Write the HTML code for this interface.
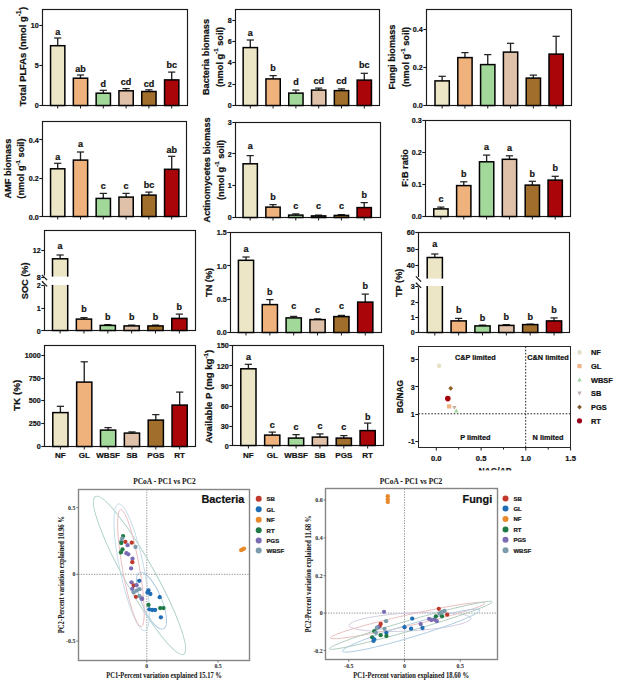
<!DOCTYPE html><html><head><meta charset="utf-8"><style>html,body{margin:0;padding:0;background:#fff;width:619px;height:683px;overflow:hidden}svg{display:block}</style></head><body>
<svg width="619" height="683" viewBox="0 0 619 683" font-family='"Liberation Sans", sans-serif' font-weight="bold" fill="#111">
<style>text{stroke:#111;stroke-width:0.22px}text.sf{stroke-width:0.06px}</style>
<rect width="619" height="683" fill="#fff"/>
<rect x="42.5" y="9.5" width="145.0" height="96.0" fill="none" stroke="#1a1a1a" stroke-width="1.15"/>
<line x1="57.7" y1="38" x2="57.7" y2="45.7" stroke="#222" stroke-width="1.35"/>
<line x1="54.1" y1="38" x2="61.300000000000004" y2="38" stroke="#222" stroke-width="1.25"/>
<rect x="50.55" y="45.7" width="14.3" height="59.80" fill="#ECE5C6" stroke="#000" stroke-width="1.5"/>
<line x1="57.7" y1="105.5" x2="57.7" y2="108.5" stroke="#1a1a1a" stroke-width="1"/>
<text x="57.7" y="34.64" font-size="9.0" text-anchor="middle">a</text>
<line x1="80.5" y1="75" x2="80.5" y2="78.2" stroke="#222" stroke-width="1.35"/>
<line x1="76.9" y1="75" x2="84.1" y2="75" stroke="#222" stroke-width="1.25"/>
<rect x="73.35" y="78.2" width="14.3" height="27.30" fill="#F0B27C" stroke="#000" stroke-width="1.5"/>
<line x1="80.5" y1="105.5" x2="80.5" y2="108.5" stroke="#1a1a1a" stroke-width="1"/>
<text x="80.5" y="71.74" font-size="9.0" text-anchor="middle">ab</text>
<line x1="103.3" y1="90.3" x2="103.3" y2="93.2" stroke="#222" stroke-width="1.35"/>
<line x1="99.7" y1="90.3" x2="106.89999999999999" y2="90.3" stroke="#222" stroke-width="1.25"/>
<rect x="96.15" y="93.2" width="14.3" height="12.30" fill="#A2D89A" stroke="#000" stroke-width="1.5"/>
<line x1="103.3" y1="105.5" x2="103.3" y2="108.5" stroke="#1a1a1a" stroke-width="1"/>
<text x="103.3" y="86.74" font-size="9.0" text-anchor="middle">d</text>
<line x1="126.1" y1="88.6" x2="126.1" y2="90.8" stroke="#222" stroke-width="1.35"/>
<line x1="122.5" y1="88.6" x2="129.7" y2="88.6" stroke="#222" stroke-width="1.25"/>
<rect x="118.95" y="90.8" width="14.3" height="14.70" fill="#DFC0A8" stroke="#000" stroke-width="1.5"/>
<line x1="126.1" y1="105.5" x2="126.1" y2="108.5" stroke="#1a1a1a" stroke-width="1"/>
<text x="126.1" y="84.54" font-size="9.0" text-anchor="middle">cd</text>
<line x1="148.9" y1="89.8" x2="148.9" y2="91.5" stroke="#222" stroke-width="1.35"/>
<line x1="145.3" y1="89.8" x2="152.5" y2="89.8" stroke="#222" stroke-width="1.25"/>
<rect x="141.75" y="91.5" width="14.3" height="14.00" fill="#A26E2C" stroke="#000" stroke-width="1.5"/>
<line x1="148.9" y1="105.5" x2="148.9" y2="108.5" stroke="#1a1a1a" stroke-width="1"/>
<text x="148.9" y="86.74" font-size="9.0" text-anchor="middle">cd</text>
<line x1="171.7" y1="72.1" x2="171.7" y2="79.9" stroke="#222" stroke-width="1.35"/>
<line x1="168.1" y1="72.1" x2="175.29999999999998" y2="72.1" stroke="#222" stroke-width="1.25"/>
<rect x="164.55" y="79.9" width="14.3" height="25.60" fill="#AA0508" stroke="#000" stroke-width="1.5"/>
<line x1="171.7" y1="105.5" x2="171.7" y2="108.5" stroke="#1a1a1a" stroke-width="1"/>
<text x="171.7" y="68.04" font-size="9.0" text-anchor="middle">bc</text>
<line x1="39.3" y1="25.5" x2="42.5" y2="25.5" stroke="#1a1a1a" stroke-width="1.1"/>
<text transform="translate(38.70,28.16) scale(0.9,1)" font-size="8.0" text-anchor="end">10</text>
<line x1="39.3" y1="65.5" x2="42.5" y2="65.5" stroke="#1a1a1a" stroke-width="1.1"/>
<text transform="translate(38.70,68.16) scale(0.9,1)" font-size="8.0" text-anchor="end">5</text>
<line x1="39.3" y1="105.5" x2="42.5" y2="105.5" stroke="#1a1a1a" stroke-width="1.1"/>
<text transform="translate(38.70,108.16) scale(0.9,1)" font-size="8.0" text-anchor="end">0</text>
<text transform="translate(25.78,56.5) rotate(-90)" font-size="9.4" text-anchor="middle">Total PLFAs (nmol g<tspan font-size="6.4" dy="-4.4">-1</tspan><tspan dy="4.4" dx="0.6">)</tspan></text>
<rect x="235.5" y="9.5" width="144.0" height="96.0" fill="none" stroke="#1a1a1a" stroke-width="1.15"/>
<line x1="250.3" y1="40" x2="250.3" y2="47.6" stroke="#222" stroke-width="1.35"/>
<line x1="246.70000000000002" y1="40" x2="253.9" y2="40" stroke="#222" stroke-width="1.25"/>
<rect x="243.15" y="47.6" width="14.3" height="57.90" fill="#ECE5C6" stroke="#000" stroke-width="1.5"/>
<line x1="250.3" y1="105.5" x2="250.3" y2="108.5" stroke="#1a1a1a" stroke-width="1"/>
<text x="250.3" y="35.64" font-size="9.0" text-anchor="middle">a</text>
<line x1="273.1" y1="75.6" x2="273.1" y2="78.9" stroke="#222" stroke-width="1.35"/>
<line x1="269.5" y1="75.6" x2="276.70000000000005" y2="75.6" stroke="#222" stroke-width="1.25"/>
<rect x="265.95" y="78.9" width="14.3" height="26.60" fill="#F0B27C" stroke="#000" stroke-width="1.5"/>
<line x1="273.1" y1="105.5" x2="273.1" y2="108.5" stroke="#1a1a1a" stroke-width="1"/>
<text x="273.1" y="71.24" font-size="9.0" text-anchor="middle">b</text>
<line x1="295.9" y1="90.1" x2="295.9" y2="93.1" stroke="#222" stroke-width="1.35"/>
<line x1="292.29999999999995" y1="90.1" x2="299.5" y2="90.1" stroke="#222" stroke-width="1.25"/>
<rect x="288.75" y="93.1" width="14.3" height="12.40" fill="#A2D89A" stroke="#000" stroke-width="1.5"/>
<line x1="295.9" y1="105.5" x2="295.9" y2="108.5" stroke="#1a1a1a" stroke-width="1"/>
<text x="295.9" y="85.34" font-size="9.0" text-anchor="middle">d</text>
<line x1="318.7" y1="88.1" x2="318.7" y2="90.1" stroke="#222" stroke-width="1.35"/>
<line x1="315.09999999999997" y1="88.1" x2="322.3" y2="88.1" stroke="#222" stroke-width="1.25"/>
<rect x="311.55" y="90.1" width="14.3" height="15.40" fill="#DFC0A8" stroke="#000" stroke-width="1.5"/>
<line x1="318.7" y1="105.5" x2="318.7" y2="108.5" stroke="#1a1a1a" stroke-width="1"/>
<text x="318.7" y="84.14" font-size="9.0" text-anchor="middle">cd</text>
<line x1="341.5" y1="88.9" x2="341.5" y2="90.6" stroke="#222" stroke-width="1.35"/>
<line x1="337.9" y1="88.9" x2="345.1" y2="88.9" stroke="#222" stroke-width="1.25"/>
<rect x="334.35" y="90.6" width="14.3" height="14.90" fill="#A26E2C" stroke="#000" stroke-width="1.5"/>
<line x1="341.5" y1="105.5" x2="341.5" y2="108.5" stroke="#1a1a1a" stroke-width="1"/>
<text x="341.5" y="84.14" font-size="9.0" text-anchor="middle">cd</text>
<line x1="364.3" y1="73.3" x2="364.3" y2="80.1" stroke="#222" stroke-width="1.35"/>
<line x1="360.7" y1="73.3" x2="367.90000000000003" y2="73.3" stroke="#222" stroke-width="1.25"/>
<rect x="357.15" y="80.1" width="14.3" height="25.40" fill="#AA0508" stroke="#000" stroke-width="1.5"/>
<line x1="364.3" y1="105.5" x2="364.3" y2="108.5" stroke="#1a1a1a" stroke-width="1"/>
<text x="364.3" y="68.34" font-size="9.0" text-anchor="middle">bc</text>
<line x1="232.3" y1="20.5" x2="235.5" y2="20.5" stroke="#1a1a1a" stroke-width="1.1"/>
<text transform="translate(231.70,22.96) scale(0.9,1)" font-size="8.0" text-anchor="end">8</text>
<line x1="232.3" y1="41.5" x2="235.5" y2="41.5" stroke="#1a1a1a" stroke-width="1.1"/>
<text transform="translate(231.70,44.26) scale(0.9,1)" font-size="8.0" text-anchor="end">6</text>
<line x1="232.3" y1="62.5" x2="235.5" y2="62.5" stroke="#1a1a1a" stroke-width="1.1"/>
<text transform="translate(231.70,65.46) scale(0.9,1)" font-size="8.0" text-anchor="end">4</text>
<line x1="232.3" y1="84.5" x2="235.5" y2="84.5" stroke="#1a1a1a" stroke-width="1.1"/>
<text transform="translate(231.70,86.76) scale(0.9,1)" font-size="8.0" text-anchor="end">2</text>
<line x1="232.3" y1="105.5" x2="235.5" y2="105.5" stroke="#1a1a1a" stroke-width="1.1"/>
<text transform="translate(231.70,107.96) scale(0.9,1)" font-size="8.0" text-anchor="end">0</text>
<text transform="translate(208.81,57) rotate(-90)" font-size="9.2" text-anchor="middle">Bacteria biomass</text>
<text transform="translate(222.61,57) rotate(-90)" font-size="9.2" text-anchor="middle">(nmol g<tspan font-size="6.2" dy="-4.2">-1</tspan><tspan dy="4.2"> soil)</tspan></text>
<rect x="426.5" y="9.5" width="145.0" height="96.0" fill="none" stroke="#1a1a1a" stroke-width="1.15"/>
<line x1="442.15" y1="76.3" x2="442.15" y2="80.9" stroke="#222" stroke-width="1.35"/>
<line x1="438.54999999999995" y1="76.3" x2="445.75" y2="76.3" stroke="#222" stroke-width="1.25"/>
<rect x="435.00" y="80.9" width="14.3" height="24.60" fill="#ECE5C6" stroke="#000" stroke-width="1.5"/>
<line x1="442.15" y1="105.5" x2="442.15" y2="108.5" stroke="#1a1a1a" stroke-width="1"/>
<line x1="464.95" y1="52.6" x2="464.95" y2="57.6" stroke="#222" stroke-width="1.35"/>
<line x1="461.34999999999997" y1="52.6" x2="468.55" y2="52.6" stroke="#222" stroke-width="1.25"/>
<rect x="457.80" y="57.6" width="14.3" height="47.90" fill="#F0B27C" stroke="#000" stroke-width="1.5"/>
<line x1="464.95" y1="105.5" x2="464.95" y2="108.5" stroke="#1a1a1a" stroke-width="1"/>
<line x1="487.75" y1="54.6" x2="487.75" y2="64.6" stroke="#222" stroke-width="1.35"/>
<line x1="484.15" y1="54.6" x2="491.35" y2="54.6" stroke="#222" stroke-width="1.25"/>
<rect x="480.60" y="64.6" width="14.3" height="40.90" fill="#A2D89A" stroke="#000" stroke-width="1.5"/>
<line x1="487.75" y1="105.5" x2="487.75" y2="108.5" stroke="#1a1a1a" stroke-width="1"/>
<line x1="510.55" y1="43.3" x2="510.55" y2="52.1" stroke="#222" stroke-width="1.35"/>
<line x1="506.95" y1="43.3" x2="514.15" y2="43.3" stroke="#222" stroke-width="1.25"/>
<rect x="503.40" y="52.1" width="14.3" height="53.40" fill="#DFC0A8" stroke="#000" stroke-width="1.5"/>
<line x1="510.55" y1="105.5" x2="510.55" y2="108.5" stroke="#1a1a1a" stroke-width="1"/>
<line x1="533.35" y1="75.1" x2="533.35" y2="78.1" stroke="#222" stroke-width="1.35"/>
<line x1="529.75" y1="75.1" x2="536.95" y2="75.1" stroke="#222" stroke-width="1.25"/>
<rect x="526.20" y="78.1" width="14.3" height="27.40" fill="#A26E2C" stroke="#000" stroke-width="1.5"/>
<line x1="533.35" y1="105.5" x2="533.35" y2="108.5" stroke="#1a1a1a" stroke-width="1"/>
<line x1="556.15" y1="36.3" x2="556.15" y2="54.1" stroke="#222" stroke-width="1.35"/>
<line x1="552.55" y1="36.3" x2="559.75" y2="36.3" stroke="#222" stroke-width="1.25"/>
<rect x="549.00" y="54.1" width="14.3" height="51.40" fill="#AA0508" stroke="#000" stroke-width="1.5"/>
<line x1="556.15" y1="105.5" x2="556.15" y2="108.5" stroke="#1a1a1a" stroke-width="1"/>
<line x1="423.3" y1="29.5" x2="426.5" y2="29.5" stroke="#1a1a1a" stroke-width="1.1"/>
<text transform="translate(422.70,32.16) scale(0.9,1)" font-size="8.0" text-anchor="end">0.4</text>
<line x1="423.3" y1="67.5" x2="426.5" y2="67.5" stroke="#1a1a1a" stroke-width="1.1"/>
<text transform="translate(422.70,70.16) scale(0.9,1)" font-size="8.0" text-anchor="end">0.2</text>
<line x1="423.3" y1="105.5" x2="426.5" y2="105.5" stroke="#1a1a1a" stroke-width="1.1"/>
<text transform="translate(422.70,108.26) scale(0.9,1)" font-size="8.0" text-anchor="end">0.0</text>
<text transform="translate(394.61,57) rotate(-90)" font-size="9.2" text-anchor="middle">Fungi biomass</text>
<text transform="translate(408.91,57) rotate(-90)" font-size="9.2" text-anchor="middle">(nmol g<tspan font-size="6.2" dy="-4.2">-1</tspan><tspan dy="4.2"> soil)</tspan></text>
<rect x="42.5" y="121.5" width="144.0" height="95.0" fill="none" stroke="#1a1a1a" stroke-width="1.15"/>
<line x1="57.7" y1="163.3" x2="57.7" y2="168.8" stroke="#222" stroke-width="1.35"/>
<line x1="54.1" y1="163.3" x2="61.300000000000004" y2="163.3" stroke="#222" stroke-width="1.25"/>
<rect x="50.55" y="168.8" width="14.3" height="47.70" fill="#ECE5C6" stroke="#000" stroke-width="1.5"/>
<line x1="57.7" y1="216.5" x2="57.7" y2="219.5" stroke="#1a1a1a" stroke-width="1"/>
<text x="57.7" y="159.94" font-size="9.0" text-anchor="middle">a</text>
<line x1="80.5" y1="152" x2="80.5" y2="160.1" stroke="#222" stroke-width="1.35"/>
<line x1="76.9" y1="152" x2="84.1" y2="152" stroke="#222" stroke-width="1.25"/>
<rect x="73.35" y="160.1" width="14.3" height="56.40" fill="#F0B27C" stroke="#000" stroke-width="1.5"/>
<line x1="80.5" y1="216.5" x2="80.5" y2="219.5" stroke="#1a1a1a" stroke-width="1"/>
<text x="80.5" y="147.34" font-size="9.0" text-anchor="middle">a</text>
<line x1="103.3" y1="193.4" x2="103.3" y2="198.4" stroke="#222" stroke-width="1.35"/>
<line x1="99.7" y1="193.4" x2="106.89999999999999" y2="193.4" stroke="#222" stroke-width="1.25"/>
<rect x="96.15" y="198.4" width="14.3" height="18.10" fill="#A2D89A" stroke="#000" stroke-width="1.5"/>
<line x1="103.3" y1="216.5" x2="103.3" y2="219.5" stroke="#1a1a1a" stroke-width="1"/>
<text x="103.3" y="188.64" font-size="9.0" text-anchor="middle">c</text>
<line x1="126.1" y1="193.4" x2="126.1" y2="197.1" stroke="#222" stroke-width="1.35"/>
<line x1="122.5" y1="193.4" x2="129.7" y2="193.4" stroke="#222" stroke-width="1.25"/>
<rect x="118.95" y="197.1" width="14.3" height="19.40" fill="#DFC0A8" stroke="#000" stroke-width="1.5"/>
<line x1="126.1" y1="216.5" x2="126.1" y2="219.5" stroke="#1a1a1a" stroke-width="1"/>
<text x="126.1" y="188.64" font-size="9.0" text-anchor="middle">c</text>
<line x1="148.9" y1="192.1" x2="148.9" y2="195.1" stroke="#222" stroke-width="1.35"/>
<line x1="145.3" y1="192.1" x2="152.5" y2="192.1" stroke="#222" stroke-width="1.25"/>
<rect x="141.75" y="195.1" width="14.3" height="21.40" fill="#A26E2C" stroke="#000" stroke-width="1.5"/>
<line x1="148.9" y1="216.5" x2="148.9" y2="219.5" stroke="#1a1a1a" stroke-width="1"/>
<text x="148.9" y="187.84" font-size="9.0" text-anchor="middle">bc</text>
<line x1="171.7" y1="156.3" x2="171.7" y2="169.3" stroke="#222" stroke-width="1.35"/>
<line x1="168.1" y1="156.3" x2="175.29999999999998" y2="156.3" stroke="#222" stroke-width="1.25"/>
<rect x="164.55" y="169.3" width="14.3" height="47.20" fill="#AA0508" stroke="#000" stroke-width="1.5"/>
<line x1="171.7" y1="216.5" x2="171.7" y2="219.5" stroke="#1a1a1a" stroke-width="1"/>
<text x="171.7" y="152.74" font-size="9.0" text-anchor="middle">ab</text>
<line x1="39.3" y1="139.5" x2="42.5" y2="139.5" stroke="#1a1a1a" stroke-width="1.1"/>
<text transform="translate(38.70,142.66) scale(0.9,1)" font-size="8.0" text-anchor="end">0.4</text>
<line x1="39.3" y1="178.5" x2="42.5" y2="178.5" stroke="#1a1a1a" stroke-width="1.1"/>
<text transform="translate(38.70,181.16) scale(0.9,1)" font-size="8.0" text-anchor="end">0.2</text>
<line x1="39.3" y1="216.5" x2="42.5" y2="216.5" stroke="#1a1a1a" stroke-width="1.1"/>
<text transform="translate(38.70,219.56) scale(0.9,1)" font-size="8.0" text-anchor="end">0.0</text>
<text transform="translate(11.31,168.6) rotate(-90)" font-size="9.2" text-anchor="middle">AMF biomass</text>
<text transform="translate(23.81,168.6) rotate(-90)" font-size="9.2" text-anchor="middle">(nmol g<tspan font-size="6.2" dy="-4.2">-1</tspan><tspan dy="4.2"> soil)</tspan></text>
<rect x="235.5" y="122.5" width="145.0" height="95.0" fill="none" stroke="#1a1a1a" stroke-width="1.15"/>
<line x1="250.2" y1="155.6" x2="250.2" y2="163.8" stroke="#222" stroke-width="1.35"/>
<line x1="246.6" y1="155.6" x2="253.79999999999998" y2="155.6" stroke="#222" stroke-width="1.25"/>
<rect x="243.05" y="163.8" width="14.3" height="53.70" fill="#ECE5C6" stroke="#000" stroke-width="1.5"/>
<line x1="250.2" y1="217.5" x2="250.2" y2="220.5" stroke="#1a1a1a" stroke-width="1"/>
<text x="250.2" y="148.64" font-size="9.0" text-anchor="middle">a</text>
<line x1="273.0" y1="204.6" x2="273.0" y2="207.1" stroke="#222" stroke-width="1.35"/>
<line x1="269.4" y1="204.6" x2="276.6" y2="204.6" stroke="#222" stroke-width="1.25"/>
<rect x="265.85" y="207.1" width="14.3" height="10.40" fill="#F0B27C" stroke="#000" stroke-width="1.5"/>
<line x1="273.0" y1="217.5" x2="273.0" y2="220.5" stroke="#1a1a1a" stroke-width="1"/>
<text x="273.0" y="199.64" font-size="9.0" text-anchor="middle">b</text>
<line x1="295.8" y1="213.9" x2="295.8" y2="215.1" stroke="#222" stroke-width="1.35"/>
<line x1="292.2" y1="213.9" x2="299.40000000000003" y2="213.9" stroke="#222" stroke-width="1.25"/>
<rect x="288.65" y="215.1" width="14.3" height="2.40" fill="#A2D89A" stroke="#000" stroke-width="1.5"/>
<line x1="295.8" y1="217.5" x2="295.8" y2="220.5" stroke="#1a1a1a" stroke-width="1"/>
<text x="295.8" y="208.74" font-size="9.0" text-anchor="middle">c</text>
<line x1="318.6" y1="215.1" x2="318.6" y2="215.9" stroke="#222" stroke-width="1.35"/>
<line x1="315.0" y1="215.1" x2="322.20000000000005" y2="215.1" stroke="#222" stroke-width="1.25"/>
<rect x="311.45" y="215.9" width="14.3" height="1.60" fill="#DFC0A8" stroke="#000" stroke-width="1.5"/>
<line x1="318.6" y1="217.5" x2="318.6" y2="220.5" stroke="#1a1a1a" stroke-width="1"/>
<text x="318.6" y="209.44" font-size="9.0" text-anchor="middle">c</text>
<line x1="341.4" y1="214.6" x2="341.4" y2="215.4" stroke="#222" stroke-width="1.35"/>
<line x1="337.79999999999995" y1="214.6" x2="345.0" y2="214.6" stroke="#222" stroke-width="1.25"/>
<rect x="334.25" y="215.4" width="14.3" height="2.10" fill="#A26E2C" stroke="#000" stroke-width="1.5"/>
<line x1="341.4" y1="217.5" x2="341.4" y2="220.5" stroke="#1a1a1a" stroke-width="1"/>
<text x="341.4" y="209.44" font-size="9.0" text-anchor="middle">c</text>
<line x1="364.2" y1="202.6" x2="364.2" y2="207.6" stroke="#222" stroke-width="1.35"/>
<line x1="360.59999999999997" y1="202.6" x2="367.8" y2="202.6" stroke="#222" stroke-width="1.25"/>
<rect x="357.05" y="207.6" width="14.3" height="9.90" fill="#AA0508" stroke="#000" stroke-width="1.5"/>
<line x1="364.2" y1="217.5" x2="364.2" y2="220.5" stroke="#1a1a1a" stroke-width="1"/>
<text x="364.2" y="197.84" font-size="9.0" text-anchor="middle">b</text>
<line x1="232.3" y1="122.5" x2="235.5" y2="122.5" stroke="#1a1a1a" stroke-width="1.1"/>
<text transform="translate(231.70,124.76) scale(0.9,1)" font-size="8.0" text-anchor="end">3</text>
<line x1="232.3" y1="153.5" x2="235.5" y2="153.5" stroke="#1a1a1a" stroke-width="1.1"/>
<text transform="translate(231.70,156.56) scale(0.9,1)" font-size="8.0" text-anchor="end">2</text>
<line x1="232.3" y1="185.5" x2="235.5" y2="185.5" stroke="#1a1a1a" stroke-width="1.1"/>
<text transform="translate(231.70,188.36) scale(0.9,1)" font-size="8.0" text-anchor="end">1</text>
<line x1="232.3" y1="217.5" x2="235.5" y2="217.5" stroke="#1a1a1a" stroke-width="1.1"/>
<text transform="translate(231.70,220.06) scale(0.9,1)" font-size="8.0" text-anchor="end">0</text>
<text transform="translate(209.81,169.9) rotate(-90)" font-size="9.2" text-anchor="middle">Actinomycetes biomass</text>
<text transform="translate(223.51,169.9) rotate(-90)" font-size="9.2" text-anchor="middle">(nmol g<tspan font-size="6.2" dy="-4.2">-1</tspan><tspan dy="4.2"> soil)</tspan></text>
<rect x="425.5" y="120.5" width="145.0" height="96.0" fill="none" stroke="#1a1a1a" stroke-width="1.15"/>
<line x1="440.9" y1="207.1" x2="440.9" y2="208.9" stroke="#222" stroke-width="1.35"/>
<line x1="437.29999999999995" y1="207.1" x2="444.5" y2="207.1" stroke="#222" stroke-width="1.25"/>
<rect x="433.75" y="208.9" width="14.3" height="7.60" fill="#ECE5C6" stroke="#000" stroke-width="1.5"/>
<line x1="440.9" y1="216.5" x2="440.9" y2="219.5" stroke="#1a1a1a" stroke-width="1"/>
<text x="440.9" y="202.44" font-size="9.0" text-anchor="middle">c</text>
<line x1="463.76" y1="181.8" x2="463.76" y2="185.6" stroke="#222" stroke-width="1.35"/>
<line x1="460.15999999999997" y1="181.8" x2="467.36" y2="181.8" stroke="#222" stroke-width="1.25"/>
<rect x="456.61" y="185.6" width="14.3" height="30.90" fill="#F0B27C" stroke="#000" stroke-width="1.5"/>
<line x1="463.76" y1="216.5" x2="463.76" y2="219.5" stroke="#1a1a1a" stroke-width="1"/>
<text x="463.76" y="177.04" font-size="9.0" text-anchor="middle">b</text>
<line x1="486.62" y1="155.1" x2="486.62" y2="161.8" stroke="#222" stroke-width="1.35"/>
<line x1="483.02" y1="155.1" x2="490.22" y2="155.1" stroke="#222" stroke-width="1.25"/>
<rect x="479.47" y="161.8" width="14.3" height="54.70" fill="#A2D89A" stroke="#000" stroke-width="1.5"/>
<line x1="486.62" y1="216.5" x2="486.62" y2="219.5" stroke="#1a1a1a" stroke-width="1"/>
<text x="486.62" y="149.84" font-size="9.0" text-anchor="middle">a</text>
<line x1="509.48" y1="155.8" x2="509.48" y2="159.3" stroke="#222" stroke-width="1.35"/>
<line x1="505.88" y1="155.8" x2="513.08" y2="155.8" stroke="#222" stroke-width="1.25"/>
<rect x="502.33" y="159.3" width="14.3" height="57.20" fill="#DFC0A8" stroke="#000" stroke-width="1.5"/>
<line x1="509.48" y1="216.5" x2="509.48" y2="219.5" stroke="#1a1a1a" stroke-width="1"/>
<text x="509.48" y="151.14" font-size="9.0" text-anchor="middle">a</text>
<line x1="532.34" y1="181.3" x2="532.34" y2="185.1" stroke="#222" stroke-width="1.35"/>
<line x1="528.74" y1="181.3" x2="535.94" y2="181.3" stroke="#222" stroke-width="1.25"/>
<rect x="525.19" y="185.1" width="14.3" height="31.40" fill="#A26E2C" stroke="#000" stroke-width="1.5"/>
<line x1="532.34" y1="216.5" x2="532.34" y2="219.5" stroke="#1a1a1a" stroke-width="1"/>
<text x="532.34" y="176.54" font-size="9.0" text-anchor="middle">b</text>
<line x1="555.2" y1="176.3" x2="555.2" y2="180.1" stroke="#222" stroke-width="1.35"/>
<line x1="551.6" y1="176.3" x2="558.8000000000001" y2="176.3" stroke="#222" stroke-width="1.25"/>
<rect x="548.05" y="180.1" width="14.3" height="36.40" fill="#AA0508" stroke="#000" stroke-width="1.5"/>
<line x1="555.2" y1="216.5" x2="555.2" y2="219.5" stroke="#1a1a1a" stroke-width="1"/>
<text x="555.2" y="171.34" font-size="9.0" text-anchor="middle">b</text>
<line x1="422.3" y1="120.5" x2="425.5" y2="120.5" stroke="#1a1a1a" stroke-width="1.1"/>
<text transform="translate(421.70,123.26) scale(0.9,1)" font-size="8.0" text-anchor="end">0.3</text>
<line x1="422.3" y1="152.5" x2="425.5" y2="152.5" stroke="#1a1a1a" stroke-width="1.1"/>
<text transform="translate(421.70,155.26) scale(0.9,1)" font-size="8.0" text-anchor="end">0.2</text>
<line x1="422.3" y1="184.5" x2="425.5" y2="184.5" stroke="#1a1a1a" stroke-width="1.1"/>
<text transform="translate(421.70,187.26) scale(0.9,1)" font-size="8.0" text-anchor="end">0.1</text>
<line x1="422.3" y1="216.5" x2="425.5" y2="216.5" stroke="#1a1a1a" stroke-width="1.1"/>
<text transform="translate(421.70,219.16) scale(0.9,1)" font-size="8.0" text-anchor="end">0.0</text>
<text transform="translate(407.51,167.9) rotate(-90)" font-size="9.2" text-anchor="middle">F:B ratio</text>
<rect x="44.5" y="230.5" width="151.0" height="100.0" fill="none" stroke="#1a1a1a" stroke-width="1.15"/>
<line x1="60.1" y1="255" x2="60.1" y2="258.8" stroke="#222" stroke-width="1.35"/>
<line x1="56.5" y1="255" x2="63.7" y2="255" stroke="#222" stroke-width="1.25"/>
<rect x="52.50" y="258.8" width="15.2" height="71.70" fill="#ECE5C6" stroke="#000" stroke-width="1.5"/>
<line x1="60.1" y1="330.5" x2="60.1" y2="333.5" stroke="#1a1a1a" stroke-width="1"/>
<text x="60.1" y="248.84" font-size="9.0" text-anchor="middle">a</text>
<line x1="83.95" y1="317.6" x2="83.95" y2="319.1" stroke="#222" stroke-width="1.35"/>
<line x1="80.35000000000001" y1="317.6" x2="87.55" y2="317.6" stroke="#222" stroke-width="1.25"/>
<rect x="76.35" y="319.1" width="15.2" height="11.40" fill="#F0B27C" stroke="#000" stroke-width="1.5"/>
<line x1="83.95" y1="330.5" x2="83.95" y2="333.5" stroke="#1a1a1a" stroke-width="1"/>
<text x="83.95" y="311.64" font-size="9.0" text-anchor="middle">b</text>
<line x1="107.8" y1="324.6" x2="107.8" y2="325.4" stroke="#222" stroke-width="1.35"/>
<line x1="104.2" y1="324.6" x2="111.39999999999999" y2="324.6" stroke="#222" stroke-width="1.25"/>
<rect x="100.20" y="325.4" width="15.2" height="5.10" fill="#A2D89A" stroke="#000" stroke-width="1.5"/>
<line x1="107.8" y1="330.5" x2="107.8" y2="333.5" stroke="#1a1a1a" stroke-width="1"/>
<text x="107.8" y="319.84" font-size="9.0" text-anchor="middle">b</text>
<line x1="131.65" y1="325.1" x2="131.65" y2="325.9" stroke="#222" stroke-width="1.35"/>
<line x1="128.05" y1="325.1" x2="135.25" y2="325.1" stroke="#222" stroke-width="1.25"/>
<rect x="124.05" y="325.9" width="15.2" height="4.60" fill="#DFC0A8" stroke="#000" stroke-width="1.5"/>
<line x1="131.65" y1="330.5" x2="131.65" y2="333.5" stroke="#1a1a1a" stroke-width="1"/>
<text x="131.65" y="319.84" font-size="9.0" text-anchor="middle">b</text>
<line x1="155.5" y1="325.1" x2="155.5" y2="325.9" stroke="#222" stroke-width="1.35"/>
<line x1="151.9" y1="325.1" x2="159.1" y2="325.1" stroke="#222" stroke-width="1.25"/>
<rect x="147.90" y="325.9" width="15.2" height="4.60" fill="#A26E2C" stroke="#000" stroke-width="1.5"/>
<line x1="155.5" y1="330.5" x2="155.5" y2="333.5" stroke="#1a1a1a" stroke-width="1"/>
<text x="155.5" y="319.84" font-size="9.0" text-anchor="middle">b</text>
<line x1="179.35" y1="314.1" x2="179.35" y2="318.4" stroke="#222" stroke-width="1.35"/>
<line x1="175.75" y1="314.1" x2="182.95" y2="314.1" stroke="#222" stroke-width="1.25"/>
<rect x="171.75" y="318.4" width="15.2" height="12.10" fill="#AA0508" stroke="#000" stroke-width="1.5"/>
<line x1="179.35" y1="330.5" x2="179.35" y2="333.5" stroke="#1a1a1a" stroke-width="1"/>
<text x="179.35" y="309.84" font-size="9.0" text-anchor="middle">b</text>
<rect x="51.00" y="276.6" width="18.2" height="8.299999999999955" fill="#fff"/>
<rect x="43.5" y="275.5" width="3" height="10.300000000000011" fill="#fff"/>
<line x1="41.9" y1="274.9" x2="47.1" y2="280.1" stroke="#1a1a1a" stroke-width="1.3"/>
<line x1="41.9" y1="281.2" x2="47.1" y2="286.40000000000003" stroke="#1a1a1a" stroke-width="1.3"/>
<line x1="41.3" y1="250.5" x2="44.5" y2="250.5" stroke="#1a1a1a" stroke-width="1.1"/>
<text transform="translate(40.70,253.36) scale(0.9,1)" font-size="8.0" text-anchor="end">12</text>
<line x1="41.3" y1="277.5" x2="44.5" y2="277.5" stroke="#1a1a1a" stroke-width="1.1"/>
<text transform="translate(40.70,280.06) scale(0.9,1)" font-size="8.0" text-anchor="end">8</text>
<line x1="41.3" y1="285.5" x2="44.5" y2="285.5" stroke="#1a1a1a" stroke-width="1.1"/>
<text transform="translate(40.70,287.76) scale(0.9,1)" font-size="8.0" text-anchor="end">2</text>
<line x1="41.3" y1="308.5" x2="44.5" y2="308.5" stroke="#1a1a1a" stroke-width="1.1"/>
<text transform="translate(40.70,310.76) scale(0.9,1)" font-size="8.0" text-anchor="end">1</text>
<line x1="41.3" y1="330.5" x2="44.5" y2="330.5" stroke="#1a1a1a" stroke-width="1.1"/>
<text transform="translate(40.70,333.56) scale(0.9,1)" font-size="8.0" text-anchor="end">0</text>
<text transform="translate(27.91,280.8) rotate(-90)" font-size="9.2" text-anchor="middle">SOC (%)</text>
<rect x="230.5" y="232.5" width="151.0" height="100.0" fill="none" stroke="#1a1a1a" stroke-width="1.15"/>
<line x1="246.0" y1="257" x2="246.0" y2="260.3" stroke="#222" stroke-width="1.35"/>
<line x1="242.4" y1="257" x2="249.6" y2="257" stroke="#222" stroke-width="1.25"/>
<rect x="238.40" y="260.3" width="15.2" height="72.20" fill="#ECE5C6" stroke="#000" stroke-width="1.5"/>
<line x1="246.0" y1="332.5" x2="246.0" y2="335.5" stroke="#1a1a1a" stroke-width="1"/>
<text x="246.0" y="251.84" font-size="9.0" text-anchor="middle">a</text>
<line x1="269.85" y1="299.6" x2="269.85" y2="304.6" stroke="#222" stroke-width="1.35"/>
<line x1="266.25" y1="299.6" x2="273.45000000000005" y2="299.6" stroke="#222" stroke-width="1.25"/>
<rect x="262.25" y="304.6" width="15.2" height="27.90" fill="#F0B27C" stroke="#000" stroke-width="1.5"/>
<line x1="269.85" y1="332.5" x2="269.85" y2="335.5" stroke="#1a1a1a" stroke-width="1"/>
<text x="269.85" y="294.54" font-size="9.0" text-anchor="middle">b</text>
<line x1="293.7" y1="316.4" x2="293.7" y2="317.9" stroke="#222" stroke-width="1.35"/>
<line x1="290.09999999999997" y1="316.4" x2="297.3" y2="316.4" stroke="#222" stroke-width="1.25"/>
<rect x="286.10" y="317.9" width="15.2" height="14.60" fill="#A2D89A" stroke="#000" stroke-width="1.5"/>
<line x1="293.7" y1="332.5" x2="293.7" y2="335.5" stroke="#1a1a1a" stroke-width="1"/>
<text x="293.7" y="309.44" font-size="9.0" text-anchor="middle">c</text>
<line x1="317.55" y1="318.9" x2="317.55" y2="319.6" stroke="#222" stroke-width="1.35"/>
<line x1="313.95" y1="318.9" x2="321.15000000000003" y2="318.9" stroke="#222" stroke-width="1.25"/>
<rect x="309.95" y="319.6" width="15.2" height="12.90" fill="#DFC0A8" stroke="#000" stroke-width="1.5"/>
<line x1="317.55" y1="332.5" x2="317.55" y2="335.5" stroke="#1a1a1a" stroke-width="1"/>
<text x="317.55" y="313.24" font-size="9.0" text-anchor="middle">c</text>
<line x1="341.4" y1="315.4" x2="341.4" y2="316.6" stroke="#222" stroke-width="1.35"/>
<line x1="337.79999999999995" y1="315.4" x2="345.0" y2="315.4" stroke="#222" stroke-width="1.25"/>
<rect x="333.80" y="316.6" width="15.2" height="15.90" fill="#A26E2C" stroke="#000" stroke-width="1.5"/>
<line x1="341.4" y1="332.5" x2="341.4" y2="335.5" stroke="#1a1a1a" stroke-width="1"/>
<text x="341.4" y="309.44" font-size="9.0" text-anchor="middle">c</text>
<line x1="365.25" y1="294.1" x2="365.25" y2="302.1" stroke="#222" stroke-width="1.35"/>
<line x1="361.65" y1="294.1" x2="368.85" y2="294.1" stroke="#222" stroke-width="1.25"/>
<rect x="357.65" y="302.1" width="15.2" height="30.40" fill="#AA0508" stroke="#000" stroke-width="1.5"/>
<line x1="365.25" y1="332.5" x2="365.25" y2="335.5" stroke="#1a1a1a" stroke-width="1"/>
<text x="365.25" y="289.04" font-size="9.0" text-anchor="middle">b</text>
<line x1="227.3" y1="232.5" x2="230.5" y2="232.5" stroke="#1a1a1a" stroke-width="1.1"/>
<text transform="translate(226.70,235.26) scale(0.9,1)" font-size="8.0" text-anchor="end">1.5</text>
<line x1="227.3" y1="265.5" x2="230.5" y2="265.5" stroke="#1a1a1a" stroke-width="1.1"/>
<text transform="translate(226.70,268.56) scale(0.9,1)" font-size="8.0" text-anchor="end">1.0</text>
<line x1="227.3" y1="299.5" x2="230.5" y2="299.5" stroke="#1a1a1a" stroke-width="1.1"/>
<text transform="translate(226.70,301.76) scale(0.9,1)" font-size="8.0" text-anchor="end">0.5</text>
<line x1="227.3" y1="332.5" x2="230.5" y2="332.5" stroke="#1a1a1a" stroke-width="1.1"/>
<text transform="translate(226.70,335.06) scale(0.9,1)" font-size="8.0" text-anchor="end">0.0</text>
<text transform="translate(212.31,282.4) rotate(-90)" font-size="9.2" text-anchor="middle">TN (%)</text>
<rect x="418.5" y="232.5" width="151.0" height="100.0" fill="none" stroke="#1a1a1a" stroke-width="1.15"/>
<line x1="434.8" y1="254" x2="434.8" y2="257.5" stroke="#222" stroke-width="1.35"/>
<line x1="431.2" y1="254" x2="438.40000000000003" y2="254" stroke="#222" stroke-width="1.25"/>
<rect x="427.20" y="257.5" width="15.2" height="75.00" fill="#ECE5C6" stroke="#000" stroke-width="1.5"/>
<line x1="434.8" y1="332.5" x2="434.8" y2="335.5" stroke="#1a1a1a" stroke-width="1"/>
<text x="434.8" y="247.34" font-size="9.0" text-anchor="middle">a</text>
<line x1="458.65" y1="318.4" x2="458.65" y2="320.9" stroke="#222" stroke-width="1.35"/>
<line x1="455.04999999999995" y1="318.4" x2="462.25" y2="318.4" stroke="#222" stroke-width="1.25"/>
<rect x="451.05" y="320.9" width="15.2" height="11.60" fill="#F0B27C" stroke="#000" stroke-width="1.5"/>
<line x1="458.65" y1="332.5" x2="458.65" y2="335.5" stroke="#1a1a1a" stroke-width="1"/>
<text x="458.65" y="313.34" font-size="9.0" text-anchor="middle">b</text>
<line x1="482.5" y1="325.1" x2="482.5" y2="325.9" stroke="#222" stroke-width="1.35"/>
<line x1="478.9" y1="325.1" x2="486.1" y2="325.1" stroke="#222" stroke-width="1.25"/>
<rect x="474.90" y="325.9" width="15.2" height="6.60" fill="#A2D89A" stroke="#000" stroke-width="1.5"/>
<line x1="482.5" y1="332.5" x2="482.5" y2="335.5" stroke="#1a1a1a" stroke-width="1"/>
<text x="482.5" y="321.14" font-size="9.0" text-anchor="middle">b</text>
<line x1="506.35" y1="324.6" x2="506.35" y2="325.4" stroke="#222" stroke-width="1.35"/>
<line x1="502.75" y1="324.6" x2="509.95000000000005" y2="324.6" stroke="#222" stroke-width="1.25"/>
<rect x="498.75" y="325.4" width="15.2" height="7.10" fill="#DFC0A8" stroke="#000" stroke-width="1.5"/>
<line x1="506.35" y1="332.5" x2="506.35" y2="335.5" stroke="#1a1a1a" stroke-width="1"/>
<text x="506.35" y="320.34" font-size="9.0" text-anchor="middle">b</text>
<line x1="530.2" y1="324.1" x2="530.2" y2="324.6" stroke="#222" stroke-width="1.35"/>
<line x1="526.6" y1="324.1" x2="533.8000000000001" y2="324.1" stroke="#222" stroke-width="1.25"/>
<rect x="522.60" y="324.6" width="15.2" height="7.90" fill="#A26E2C" stroke="#000" stroke-width="1.5"/>
<line x1="530.2" y1="332.5" x2="530.2" y2="335.5" stroke="#1a1a1a" stroke-width="1"/>
<text x="530.2" y="319.64" font-size="9.0" text-anchor="middle">b</text>
<line x1="554.05" y1="317.9" x2="554.05" y2="320.9" stroke="#222" stroke-width="1.35"/>
<line x1="550.4499999999999" y1="317.9" x2="557.65" y2="317.9" stroke="#222" stroke-width="1.25"/>
<rect x="546.45" y="320.9" width="15.2" height="11.60" fill="#AA0508" stroke="#000" stroke-width="1.5"/>
<line x1="554.05" y1="332.5" x2="554.05" y2="335.5" stroke="#1a1a1a" stroke-width="1"/>
<text x="554.05" y="313.34" font-size="9.0" text-anchor="middle">b</text>
<rect x="425.70" y="278.6" width="18.2" height="7.399999999999977" fill="#fff"/>
<rect x="417.5" y="277" width="3" height="10.300000000000011" fill="#fff"/>
<line x1="415.9" y1="276.4" x2="421.1" y2="281.6" stroke="#1a1a1a" stroke-width="1.3"/>
<line x1="415.9" y1="282.7" x2="421.1" y2="287.90000000000003" stroke="#1a1a1a" stroke-width="1.3"/>
<line x1="415.3" y1="232.5" x2="418.5" y2="232.5" stroke="#1a1a1a" stroke-width="1.1"/>
<text transform="translate(414.70,235.16) scale(0.9,1)" font-size="8.0" text-anchor="end">60</text>
<line x1="415.3" y1="249.5" x2="418.5" y2="249.5" stroke="#1a1a1a" stroke-width="1.1"/>
<text transform="translate(414.70,251.76) scale(0.9,1)" font-size="8.0" text-anchor="end">50</text>
<line x1="415.3" y1="265.5" x2="418.5" y2="265.5" stroke="#1a1a1a" stroke-width="1.1"/>
<text transform="translate(414.70,268.36) scale(0.9,1)" font-size="8.0" text-anchor="end">40</text>
<line x1="415.3" y1="286.5" x2="418.5" y2="286.5" stroke="#1a1a1a" stroke-width="1.1"/>
<text transform="translate(414.70,289.26) scale(0.9,1)" font-size="8.0" text-anchor="end">3</text>
<line x1="415.3" y1="302.5" x2="418.5" y2="302.5" stroke="#1a1a1a" stroke-width="1.1"/>
<text transform="translate(414.70,305.36) scale(0.9,1)" font-size="8.0" text-anchor="end">2</text>
<line x1="415.3" y1="317.5" x2="418.5" y2="317.5" stroke="#1a1a1a" stroke-width="1.1"/>
<text transform="translate(414.70,320.36) scale(0.9,1)" font-size="8.0" text-anchor="end">1</text>
<line x1="415.3" y1="332.5" x2="418.5" y2="332.5" stroke="#1a1a1a" stroke-width="1.1"/>
<text transform="translate(414.70,335.26) scale(0.9,1)" font-size="8.0" text-anchor="end">0</text>
<text transform="translate(402.31,282.8) rotate(-90)" font-size="9.2" text-anchor="middle">TP (%)</text>
<rect x="44.5" y="345.5" width="151.0" height="101.0" fill="none" stroke="#1a1a1a" stroke-width="1.15"/>
<line x1="60.4" y1="406.3" x2="60.4" y2="412.6" stroke="#222" stroke-width="1.35"/>
<line x1="56.8" y1="406.3" x2="64.0" y2="406.3" stroke="#222" stroke-width="1.25"/>
<rect x="52.80" y="412.6" width="15.2" height="33.90" fill="#ECE5C6" stroke="#000" stroke-width="1.5"/>
<line x1="60.4" y1="446.5" x2="60.4" y2="449.5" stroke="#1a1a1a" stroke-width="1"/>
<text x="60.4" y="457.5" font-size="8.0" text-anchor="middle">NF</text>
<line x1="84.25" y1="361.8" x2="84.25" y2="382.1" stroke="#222" stroke-width="1.35"/>
<line x1="80.65" y1="361.8" x2="87.85" y2="361.8" stroke="#222" stroke-width="1.25"/>
<rect x="76.65" y="382.1" width="15.2" height="64.40" fill="#F0B27C" stroke="#000" stroke-width="1.5"/>
<line x1="84.25" y1="446.5" x2="84.25" y2="449.5" stroke="#1a1a1a" stroke-width="1"/>
<text x="84.25" y="457.5" font-size="8.0" text-anchor="middle">GL</text>
<line x1="108.1" y1="427.6" x2="108.1" y2="430.1" stroke="#222" stroke-width="1.35"/>
<line x1="104.5" y1="427.6" x2="111.69999999999999" y2="427.6" stroke="#222" stroke-width="1.25"/>
<rect x="100.50" y="430.1" width="15.2" height="16.40" fill="#A2D89A" stroke="#000" stroke-width="1.5"/>
<line x1="108.1" y1="446.5" x2="108.1" y2="449.5" stroke="#1a1a1a" stroke-width="1"/>
<text x="108.1" y="457.5" font-size="8.0" text-anchor="middle">WBSF</text>
<line x1="131.95" y1="431.9" x2="131.95" y2="433.1" stroke="#222" stroke-width="1.35"/>
<line x1="128.35" y1="431.9" x2="135.54999999999998" y2="431.9" stroke="#222" stroke-width="1.25"/>
<rect x="124.35" y="433.1" width="15.2" height="13.40" fill="#DFC0A8" stroke="#000" stroke-width="1.5"/>
<line x1="131.95" y1="446.5" x2="131.95" y2="449.5" stroke="#1a1a1a" stroke-width="1"/>
<text x="131.95" y="457.5" font-size="8.0" text-anchor="middle">SB</text>
<line x1="155.8" y1="414.6" x2="155.8" y2="420.1" stroke="#222" stroke-width="1.35"/>
<line x1="152.20000000000002" y1="414.6" x2="159.4" y2="414.6" stroke="#222" stroke-width="1.25"/>
<rect x="148.20" y="420.1" width="15.2" height="26.40" fill="#A26E2C" stroke="#000" stroke-width="1.5"/>
<line x1="155.8" y1="446.5" x2="155.8" y2="449.5" stroke="#1a1a1a" stroke-width="1"/>
<text x="155.8" y="457.5" font-size="8.0" text-anchor="middle">PGS</text>
<line x1="179.65" y1="392.1" x2="179.65" y2="405.1" stroke="#222" stroke-width="1.35"/>
<line x1="176.05" y1="392.1" x2="183.25" y2="392.1" stroke="#222" stroke-width="1.25"/>
<rect x="172.05" y="405.1" width="15.2" height="41.40" fill="#AA0508" stroke="#000" stroke-width="1.5"/>
<line x1="179.65" y1="446.5" x2="179.65" y2="449.5" stroke="#1a1a1a" stroke-width="1"/>
<text x="179.65" y="457.5" font-size="8.0" text-anchor="middle">RT</text>
<line x1="41.3" y1="355.5" x2="44.5" y2="355.5" stroke="#1a1a1a" stroke-width="1.1"/>
<text transform="translate(40.70,357.96) scale(0.9,1)" font-size="8.0" text-anchor="end">1000</text>
<line x1="41.3" y1="378.5" x2="44.5" y2="378.5" stroke="#1a1a1a" stroke-width="1.1"/>
<text transform="translate(40.70,380.76) scale(0.9,1)" font-size="8.0" text-anchor="end">750</text>
<line x1="41.3" y1="400.5" x2="44.5" y2="400.5" stroke="#1a1a1a" stroke-width="1.1"/>
<text transform="translate(40.70,403.46) scale(0.9,1)" font-size="8.0" text-anchor="end">500</text>
<line x1="41.3" y1="423.5" x2="44.5" y2="423.5" stroke="#1a1a1a" stroke-width="1.1"/>
<text transform="translate(40.70,426.26) scale(0.9,1)" font-size="8.0" text-anchor="end">250</text>
<line x1="41.3" y1="446.5" x2="44.5" y2="446.5" stroke="#1a1a1a" stroke-width="1.1"/>
<text transform="translate(40.70,448.86) scale(0.9,1)" font-size="8.0" text-anchor="end">0</text>
<text transform="translate(20.06,395.4) rotate(-90)" font-size="9.9" text-anchor="middle">TK (%)</text>
<rect x="232.5" y="345.5" width="151.0" height="100.0" fill="none" stroke="#1a1a1a" stroke-width="1.15"/>
<line x1="248.4" y1="364.3" x2="248.4" y2="368.8" stroke="#222" stroke-width="1.35"/>
<line x1="244.8" y1="364.3" x2="252.0" y2="364.3" stroke="#222" stroke-width="1.25"/>
<rect x="240.80" y="368.8" width="15.2" height="76.70" fill="#ECE5C6" stroke="#000" stroke-width="1.5"/>
<line x1="248.4" y1="445.5" x2="248.4" y2="448.5" stroke="#1a1a1a" stroke-width="1"/>
<text x="248.4" y="359.84" font-size="9.0" text-anchor="middle">a</text>
<text x="248.4" y="457.5" font-size="8.0" text-anchor="middle">NF</text>
<line x1="272.25" y1="432.1" x2="272.25" y2="435.1" stroke="#222" stroke-width="1.35"/>
<line x1="268.65" y1="432.1" x2="275.85" y2="432.1" stroke="#222" stroke-width="1.25"/>
<rect x="264.65" y="435.1" width="15.2" height="10.40" fill="#F0B27C" stroke="#000" stroke-width="1.5"/>
<line x1="272.25" y1="445.5" x2="272.25" y2="448.5" stroke="#1a1a1a" stroke-width="1"/>
<text x="272.25" y="427.94" font-size="9.0" text-anchor="middle">c</text>
<text x="272.25" y="457.5" font-size="8.0" text-anchor="middle">GL</text>
<line x1="296.1" y1="434.6" x2="296.1" y2="438.1" stroke="#222" stroke-width="1.35"/>
<line x1="292.5" y1="434.6" x2="299.70000000000005" y2="434.6" stroke="#222" stroke-width="1.25"/>
<rect x="288.50" y="438.1" width="15.2" height="7.40" fill="#A2D89A" stroke="#000" stroke-width="1.5"/>
<line x1="296.1" y1="445.5" x2="296.1" y2="448.5" stroke="#1a1a1a" stroke-width="1"/>
<text x="296.1" y="430.44" font-size="9.0" text-anchor="middle">c</text>
<text x="296.1" y="457.5" font-size="8.0" text-anchor="middle">WBSF</text>
<line x1="319.95" y1="433.9" x2="319.95" y2="437.1" stroke="#222" stroke-width="1.35"/>
<line x1="316.34999999999997" y1="433.9" x2="323.55" y2="433.9" stroke="#222" stroke-width="1.25"/>
<rect x="312.35" y="437.1" width="15.2" height="8.40" fill="#DFC0A8" stroke="#000" stroke-width="1.5"/>
<line x1="319.95" y1="445.5" x2="319.95" y2="448.5" stroke="#1a1a1a" stroke-width="1"/>
<text x="319.95" y="429.44" font-size="9.0" text-anchor="middle">c</text>
<text x="319.95" y="457.5" font-size="8.0" text-anchor="middle">SB</text>
<line x1="343.8" y1="435.6" x2="343.8" y2="438.1" stroke="#222" stroke-width="1.35"/>
<line x1="340.2" y1="435.6" x2="347.40000000000003" y2="435.6" stroke="#222" stroke-width="1.25"/>
<rect x="336.20" y="438.1" width="15.2" height="7.40" fill="#A26E2C" stroke="#000" stroke-width="1.5"/>
<line x1="343.8" y1="445.5" x2="343.8" y2="448.5" stroke="#1a1a1a" stroke-width="1"/>
<text x="343.8" y="430.44" font-size="9.0" text-anchor="middle">c</text>
<text x="343.8" y="457.5" font-size="8.0" text-anchor="middle">PGS</text>
<line x1="367.65" y1="423.1" x2="367.65" y2="430.6" stroke="#222" stroke-width="1.35"/>
<line x1="364.04999999999995" y1="423.1" x2="371.25" y2="423.1" stroke="#222" stroke-width="1.25"/>
<rect x="360.05" y="430.6" width="15.2" height="14.90" fill="#AA0508" stroke="#000" stroke-width="1.5"/>
<line x1="367.65" y1="445.5" x2="367.65" y2="448.5" stroke="#1a1a1a" stroke-width="1"/>
<text x="367.65" y="420.14" font-size="9.0" text-anchor="middle">b</text>
<text x="367.65" y="457.5" font-size="8.0" text-anchor="middle">RT</text>
<line x1="229.3" y1="345.5" x2="232.5" y2="345.5" stroke="#1a1a1a" stroke-width="1.1"/>
<text transform="translate(228.70,348.46) scale(0.9,1)" font-size="8.0" text-anchor="end">150</text>
<line x1="229.3" y1="365.5" x2="232.5" y2="365.5" stroke="#1a1a1a" stroke-width="1.1"/>
<text transform="translate(228.70,368.56) scale(0.9,1)" font-size="8.0" text-anchor="end">120</text>
<line x1="229.3" y1="385.5" x2="232.5" y2="385.5" stroke="#1a1a1a" stroke-width="1.1"/>
<text transform="translate(228.70,388.66) scale(0.9,1)" font-size="8.0" text-anchor="end">90</text>
<line x1="229.3" y1="406.5" x2="232.5" y2="406.5" stroke="#1a1a1a" stroke-width="1.1"/>
<text transform="translate(228.70,408.76) scale(0.9,1)" font-size="8.0" text-anchor="end">60</text>
<line x1="229.3" y1="426.5" x2="232.5" y2="426.5" stroke="#1a1a1a" stroke-width="1.1"/>
<text transform="translate(228.70,428.76) scale(0.9,1)" font-size="8.0" text-anchor="end">30</text>
<line x1="229.3" y1="445.5" x2="232.5" y2="445.5" stroke="#1a1a1a" stroke-width="1.1"/>
<text transform="translate(228.70,448.66) scale(0.9,1)" font-size="8.0" text-anchor="end">0</text>
<text transform="translate(211.76,396.6) rotate(-90)" font-size="9.6" text-anchor="middle">Available P (mg kg<tspan font-size="6.2" dy="-4.2">-1</tspan><tspan dy="4.2">)</tspan></text>
<rect x="418.5" y="346.5" width="152.0" height="101.0" fill="none" stroke="#2a2a2a" stroke-width="1"/>
<line x1="418.5" y1="413.8" x2="570.5" y2="413.8" stroke="#222" stroke-width="1" stroke-dasharray="1.6,1.6"/>
<line x1="525.7" y1="346.5" x2="525.7" y2="447.5" stroke="#222" stroke-width="1" stroke-dasharray="1.6,1.6"/>
<line x1="415.3" y1="359.5" x2="418.5" y2="359.5" stroke="#1a1a1a" stroke-width="1.1"/>
<text transform="translate(414.70,362.26) scale(0.9,1)" font-size="8.0" text-anchor="end">5</text>
<line x1="415.3" y1="386.5" x2="418.5" y2="386.5" stroke="#1a1a1a" stroke-width="1.1"/>
<text transform="translate(414.70,389.56) scale(0.9,1)" font-size="8.0" text-anchor="end">3</text>
<line x1="415.3" y1="414.5" x2="418.5" y2="414.5" stroke="#1a1a1a" stroke-width="1.1"/>
<text transform="translate(414.70,416.76) scale(0.9,1)" font-size="8.0" text-anchor="end">1</text>
<line x1="415.3" y1="441.5" x2="418.5" y2="441.5" stroke="#1a1a1a" stroke-width="1.1"/>
<text transform="translate(414.70,443.96) scale(0.9,1)" font-size="8.0" text-anchor="end">-1</text>
<line x1="436.3" y1="447.5" x2="436.3" y2="450.5" stroke="#1a1a1a" stroke-width="1"/>
<text x="436.3" y="461.0" font-size="7.6" text-anchor="middle">0.0</text>
<line x1="481.1" y1="447.5" x2="481.1" y2="450.5" stroke="#1a1a1a" stroke-width="1"/>
<text x="481.1" y="461.0" font-size="7.6" text-anchor="middle">0.5</text>
<line x1="525.8" y1="447.5" x2="525.8" y2="450.5" stroke="#1a1a1a" stroke-width="1"/>
<text x="525.8" y="461.0" font-size="7.6" text-anchor="middle">1.0</text>
<line x1="570.6" y1="447.5" x2="570.6" y2="450.5" stroke="#1a1a1a" stroke-width="1"/>
<text x="570.6" y="461.0" font-size="7.6" text-anchor="middle">1.5</text>
<line x1="458.7" y1="447.5" x2="458.7" y2="449.5" stroke="#1a1a1a" stroke-width="1"/>
<line x1="503.5" y1="447.5" x2="503.5" y2="449.5" stroke="#1a1a1a" stroke-width="1"/>
<line x1="548.2" y1="447.5" x2="548.2" y2="449.5" stroke="#1a1a1a" stroke-width="1"/>
<text x="495" y="474.2" font-size="8.5" text-anchor="middle">NAG/AP</text>
<rect x="470" y="470.4" width="50" height="8" fill="#fff"/>
<text transform="translate(403.19,396.6) rotate(-90)" font-size="8.3" text-anchor="middle">BG/NAG</text>
<text x="475.4" y="359.70000000000005" font-size="7.3" text-anchor="middle">C&amp;P limited</text>
<text x="548" y="360.1" font-size="7.3" text-anchor="middle">C&amp;N limited</text>
<text x="475.4" y="439.90000000000003" font-size="7.3" text-anchor="middle">P limited</text>
<text x="548" y="440.1" font-size="7.3" text-anchor="middle">N limited</text>
<circle cx="439.1" cy="365.7" r="2.3" fill="#E6E0C4"/>
<path d="M450.7,385.9 L453.1,388.3 L450.7,390.7 L448.3,388.3Z" fill="#8E5E22"/>
<circle cx="447.8" cy="398.6" r="2.8" fill="#A50008"/>
<rect x="447" y="404.3" width="4.2" height="4.2" fill="#F2B47E"/>
<path d="M452.2,406 L456.6,406 L454.4,409.8Z" fill="#C8B0A0"/>
<path d="M456.3,408.6 L458.6,412.4 L454,412.4Z" fill="#9ED89A"/>
<circle cx="579.5" cy="352.4" r="2.3" fill="#E2DECA"/>
<text x="591" y="355.09999999999997" font-size="7.4">NF</text>
<rect x="577.4" y="364.0" width="4.2" height="4.2" fill="#F0B488"/>
<text x="591" y="368.8" font-size="7.4">GL</text>
<path d="M579.5,377.6 L581.8,381.6 L577.2,381.6Z" fill="#A6D2A6"/>
<text x="591" y="382.5" font-size="7.4">WBSF</text>
<path d="M577.2,391.59999999999997 L581.8,391.59999999999997 L579.5,395.59999999999997Z" fill="#BDB2AE"/>
<text x="591" y="396.09999999999997" font-size="7.4">SB</text>
<path d="M579.5,404.70000000000005 L581.9,407.1 L579.5,409.5 L577.1,407.1Z" fill="#7E5A2E"/>
<text x="591" y="409.8" font-size="7.4">PGS</text>
<circle cx="579.5" cy="420.8" r="2.6" fill="#98001A"/>
<text x="591" y="423.5" font-size="7.4">RT</text>
<rect x="78.5" y="489.5" width="171.0" height="171.0" fill="none" stroke="#858585" stroke-width="1.4"/>
<line x1="78.3" y1="574.3" x2="249.8" y2="574.3" stroke="#888" stroke-width="0.9" stroke-dasharray="1.3,1.3"/>
<line x1="146.8" y1="489.2" x2="146.8" y2="660.5" stroke="#888" stroke-width="0.9" stroke-dasharray="1.3,1.3"/>
<ellipse cx="139.5" cy="575.3" rx="90.3" ry="15" transform="rotate(60.7 139.5 575.3)" fill="none" stroke="#A9CFC8" stroke-width="0.9"/>
<ellipse cx="131.65" cy="567.35" rx="65" ry="12" transform="rotate(78.2 131.65 567.35)" fill="none" stroke="#C2DCE6" stroke-width="0.9"/>
<ellipse cx="130.95" cy="568.1" rx="59.5" ry="8.5" transform="rotate(80 130.95 568.1)" fill="none" stroke="#E8BBC0" stroke-width="0.9"/>
<ellipse cx="151.5" cy="600.75" rx="30.5" ry="10" transform="rotate(67 151.5 600.75)" fill="none" stroke="#A9C8E0" stroke-width="0.9"/>
<circle cx="123.1" cy="536.1" r="2.15" fill="#1F7A46"/>
<circle cx="122.1" cy="538.6" r="2.15" fill="#7C9CAB"/>
<circle cx="121.3" cy="541.5" r="2.15" fill="#7C9CAB"/>
<circle cx="121.3" cy="543" r="2.15" fill="#1F7A46"/>
<circle cx="125.4" cy="541.8" r="2.15" fill="#C0392B"/>
<circle cx="131.8" cy="542.7" r="2.15" fill="#C0392B"/>
<circle cx="127.6" cy="545.2" r="2.15" fill="#7B6CB4"/>
<circle cx="135.5" cy="547" r="2.15" fill="#7C9CAB"/>
<circle cx="122.5" cy="549.5" r="2.15" fill="#1F7A46"/>
<circle cx="120.9" cy="552.4" r="2.15" fill="#1F7A46"/>
<circle cx="126.4" cy="553.2" r="2.15" fill="#7B6CB4"/>
<circle cx="128.3" cy="554.3" r="2.15" fill="#7B6CB4"/>
<circle cx="132.5" cy="558.7" r="2.15" fill="#7B6CB4"/>
<circle cx="132.3" cy="562.2" r="2.15" fill="#C0392B"/>
<circle cx="131.1" cy="568.4" r="2.15" fill="#7B6CB4"/>
<circle cx="139.2" cy="580.8" r="2.15" fill="#1F6DB4"/>
<circle cx="131.5" cy="582.3" r="2.15" fill="#7B6CB4"/>
<circle cx="133.7" cy="585.5" r="2.15" fill="#C0392B"/>
<circle cx="136.6" cy="585.2" r="2.15" fill="#7B6CB4"/>
<circle cx="132.3" cy="588.8" r="2.15" fill="#7B6CB4"/>
<circle cx="133.7" cy="592.4" r="2.15" fill="#7C9CAB"/>
<circle cx="136.6" cy="590.6" r="2.15" fill="#7C9CAB"/>
<circle cx="139.5" cy="589.2" r="2.15" fill="#7C9CAB"/>
<circle cx="135.9" cy="596.8" r="2.15" fill="#C0392B"/>
<circle cx="139.5" cy="596.1" r="2.15" fill="#7C9CAB"/>
<circle cx="141.2" cy="597.9" r="2.15" fill="#7C9CAB"/>
<circle cx="142.1" cy="599" r="2.15" fill="#7B6CB4"/>
<circle cx="148.5" cy="590.4" r="2.15" fill="#1F6DB4"/>
<circle cx="147.5" cy="592.5" r="2.15" fill="#1F6DB4"/>
<circle cx="150.4" cy="594" r="2.15" fill="#1F6DB4"/>
<circle cx="159.7" cy="597.2" r="2.15" fill="#1F6DB4"/>
<circle cx="148.5" cy="604.9" r="2.15" fill="#1F7A46"/>
<circle cx="149.3" cy="609.3" r="2.15" fill="#1F6DB4"/>
<circle cx="152.2" cy="610" r="2.15" fill="#1F6DB4"/>
<circle cx="155.1" cy="610" r="2.15" fill="#1F6DB4"/>
<circle cx="160.2" cy="608.1" r="2.15" fill="#1F7A46"/>
<circle cx="163.5" cy="608.1" r="2.15" fill="#1F7A46"/>
<circle cx="160.9" cy="617.3" r="2.15" fill="#1F6DB4"/>
<circle cx="241.2" cy="550.2" r="2.15" fill="#E8892B"/>
<circle cx="242.6" cy="549.4" r="2.15" fill="#E8892B"/>
<circle cx="244" cy="548.7" r="2.15" fill="#E8892B"/>
<line x1="76.3" y1="507.6" x2="78.3" y2="507.6" stroke="#555" stroke-width="0.8"/>
<text x="75.3" y="509.6" class="sf" font-family='"Liberation Serif", serif' font-size="5.8" text-anchor="end" fill="#333">0.5</text>
<line x1="76.3" y1="574.3" x2="78.3" y2="574.3" stroke="#555" stroke-width="0.8"/>
<text x="75.3" y="576.3" class="sf" font-family='"Liberation Serif", serif' font-size="5.8" text-anchor="end" fill="#333">0</text>
<line x1="76.3" y1="641" x2="78.3" y2="641" stroke="#555" stroke-width="0.8"/>
<text x="75.3" y="643.0" class="sf" font-family='"Liberation Serif", serif' font-size="5.8" text-anchor="end" fill="#333">-0.5</text>
<line x1="146.8" y1="660.5" x2="146.8" y2="662.5" stroke="#555" stroke-width="0.8"/>
<text x="146.8" y="668.3" class="sf" font-family='"Liberation Serif", serif' font-size="5.8" text-anchor="middle" fill="#333">0</text>
<line x1="218" y1="660.5" x2="218" y2="662.5" stroke="#555" stroke-width="0.8"/>
<text x="218" y="668.3" class="sf" font-family='"Liberation Serif", serif' font-size="5.8" text-anchor="middle" fill="#333">0.5</text>
<text x="133.2" y="484" class="sf" font-family='"Liberation Serif", serif' font-size="7.6" textLength="62.5" lengthAdjust="spacingAndGlyphs" fill="#222">PCoA - PC1 vs PC2</text>
<text x="244.4" y="502.5" font-size="10.9" text-anchor="end" fill="#111">Bacteria</text>
<circle cx="258.7" cy="498.8" r="3" fill="#C0392B"/>
<text x="266.59999999999997" y="501.0" font-size="6" fill="#222">SB</text>
<circle cx="258.7" cy="509.3" r="3" fill="#1F6DB4"/>
<text x="266.59999999999997" y="511.5" font-size="6" fill="#222">GL</text>
<circle cx="258.7" cy="519.8" r="3" fill="#E8892B"/>
<text x="266.59999999999997" y="522.0" font-size="6" fill="#222">NF</text>
<circle cx="258.7" cy="530.3" r="3" fill="#1F7A46"/>
<text x="266.59999999999997" y="532.5" font-size="6" fill="#222">RT</text>
<circle cx="258.7" cy="540.4" r="3" fill="#7B6CB4"/>
<text x="266.59999999999997" y="542.6" font-size="6" fill="#222">PGS</text>
<circle cx="258.7" cy="550.5" r="3" fill="#7C9CAB"/>
<text x="266.59999999999997" y="552.7" font-size="6" fill="#222">WBSF</text>
<text transform="translate(63.6,574.7) rotate(-90)" class="sf" font-family='"Liberation Serif", serif' font-size="7.8" text-anchor="middle" textLength="117" lengthAdjust="spacingAndGlyphs" fill="#222">PC2-Percent variation explained 10.96 %</text>
<text x="106.2" y="677.8" class="sf" font-family='"Liberation Serif", serif' font-size="7.8" textLength="115.7" lengthAdjust="spacingAndGlyphs" fill="#222">PC1-Percent variation explained 15.17 %</text>
<rect x="325.5" y="488.5" width="172.0" height="171.0" fill="none" stroke="#858585" stroke-width="1.4"/>
<line x1="325.6" y1="613.1" x2="497.1" y2="613.1" stroke="#888" stroke-width="0.9" stroke-dasharray="1.3,1.3"/>
<line x1="404.5" y1="488.9" x2="404.5" y2="659.8" stroke="#888" stroke-width="0.9" stroke-dasharray="1.3,1.3"/>
<ellipse cx="410.0" cy="621.9" rx="61" ry="9" transform="rotate(-3.3 410.0 621.9)" fill="none" stroke="#CFC8DE" stroke-width="0.9"/>
<ellipse cx="407.6" cy="620.5" rx="79.3" ry="5.5" transform="rotate(-12.7 407.6 620.5)" fill="none" stroke="#E8BEBE" stroke-width="0.9"/>
<ellipse cx="410.8" cy="625.3" rx="84.7" ry="5.2" transform="rotate(-16.1 410.8 625.3)" fill="none" stroke="#B0CCBE" stroke-width="0.9"/>
<ellipse cx="411.2" cy="630.6" rx="71.8" ry="6.5" transform="rotate(-16.7 411.2 630.6)" fill="none" stroke="#AECCE0" stroke-width="0.9"/>
<circle cx="384" cy="611.8" r="2.15" fill="#7B6CB4"/>
<circle cx="386.1" cy="621.2" r="2.15" fill="#7C9CAB"/>
<circle cx="380.7" cy="623.9" r="2.15" fill="#C0392B"/>
<circle cx="379.6" cy="626.3" r="2.15" fill="#C0392B"/>
<circle cx="378.3" cy="627.2" r="2.15" fill="#7B6CB4"/>
<circle cx="376.7" cy="628" r="2.15" fill="#7C9CAB"/>
<circle cx="384.5" cy="628.8" r="2.15" fill="#7C9CAB"/>
<circle cx="374.3" cy="631.2" r="2.15" fill="#1F7A46"/>
<circle cx="375.9" cy="632.8" r="2.15" fill="#7C9CAB"/>
<circle cx="386.4" cy="632.8" r="2.15" fill="#1F6DB4"/>
<circle cx="380.7" cy="635.2" r="2.15" fill="#1F7A46"/>
<circle cx="386.4" cy="636" r="2.15" fill="#1F7A46"/>
<circle cx="372.2" cy="637.3" r="2.15" fill="#1F7A46"/>
<circle cx="373.5" cy="640.9" r="2.15" fill="#1F6DB4"/>
<circle cx="374.3" cy="639.3" r="2.15" fill="#1F6DB4"/>
<circle cx="404.5" cy="627.2" r="2.15" fill="#1F6DB4"/>
<circle cx="412.2" cy="618.6" r="2.15" fill="#1F6DB4"/>
<circle cx="411.1" cy="628.7" r="2.15" fill="#1F6DB4"/>
<circle cx="420.7" cy="624.1" r="2.15" fill="#7B6CB4"/>
<circle cx="422.5" cy="628" r="2.15" fill="#1F6DB4"/>
<circle cx="429.1" cy="618.8" r="2.15" fill="#7B6CB4"/>
<circle cx="431.5" cy="620.1" r="2.15" fill="#7B6CB4"/>
<circle cx="434.7" cy="619.6" r="2.15" fill="#7B6CB4"/>
<circle cx="436.8" cy="621.2" r="2.15" fill="#7B6CB4"/>
<circle cx="438.8" cy="608.8" r="2.15" fill="#C0392B"/>
<circle cx="435.9" cy="616.3" r="2.15" fill="#1F7A46"/>
<circle cx="439.5" cy="613.5" r="2.15" fill="#7C9CAB"/>
<circle cx="442" cy="612" r="2.15" fill="#7C9CAB"/>
<circle cx="444.5" cy="611" r="2.15" fill="#7C9CAB"/>
<circle cx="447.2" cy="614.7" r="2.15" fill="#C0392B"/>
<circle cx="442" cy="616.3" r="2.15" fill="#1F7A46"/>
<circle cx="387.8" cy="496.2" r="2.15" fill="#E8892B"/>
<circle cx="387.8" cy="499.2" r="2.15" fill="#E8892B"/>
<circle cx="387.8" cy="502.0" r="2.15" fill="#E8892B"/>
<line x1="323.6" y1="500" x2="325.6" y2="500" stroke="#555" stroke-width="0.8"/>
<text x="322.6" y="502.0" class="sf" font-family='"Liberation Serif", serif' font-size="5.8" text-anchor="end" fill="#333">0.6</text>
<line x1="323.6" y1="537.9" x2="325.6" y2="537.9" stroke="#555" stroke-width="0.8"/>
<text x="322.6" y="539.9" class="sf" font-family='"Liberation Serif", serif' font-size="5.8" text-anchor="end" fill="#333">0.4</text>
<line x1="323.6" y1="575.7" x2="325.6" y2="575.7" stroke="#555" stroke-width="0.8"/>
<text x="322.6" y="577.7" class="sf" font-family='"Liberation Serif", serif' font-size="5.8" text-anchor="end" fill="#333">0.2</text>
<line x1="323.6" y1="613.1" x2="325.6" y2="613.1" stroke="#555" stroke-width="0.8"/>
<text x="322.6" y="615.1" class="sf" font-family='"Liberation Serif", serif' font-size="5.8" text-anchor="end" fill="#333">0</text>
<line x1="323.6" y1="650.5" x2="325.6" y2="650.5" stroke="#555" stroke-width="0.8"/>
<text x="322.6" y="652.5" class="sf" font-family='"Liberation Serif", serif' font-size="5.8" text-anchor="end" fill="#333">-0.2</text>
<line x1="348.8" y1="659.8" x2="348.8" y2="661.8" stroke="#555" stroke-width="0.8"/>
<text x="348.8" y="667.5999999999999" class="sf" font-family='"Liberation Serif", serif' font-size="5.8" text-anchor="middle" fill="#333">-0.5</text>
<line x1="404.5" y1="659.8" x2="404.5" y2="661.8" stroke="#555" stroke-width="0.8"/>
<text x="404.5" y="667.5999999999999" class="sf" font-family='"Liberation Serif", serif' font-size="5.8" text-anchor="middle" fill="#333">0</text>
<line x1="460.2" y1="659.8" x2="460.2" y2="661.8" stroke="#555" stroke-width="0.8"/>
<text x="460.2" y="667.5999999999999" class="sf" font-family='"Liberation Serif", serif' font-size="5.8" text-anchor="middle" fill="#333">0.5</text>
<text x="379.8" y="484" class="sf" font-family='"Liberation Serif", serif' font-size="7.6" textLength="62.5" lengthAdjust="spacingAndGlyphs" fill="#222">PCoA - PC1 vs PC2</text>
<text x="492.2" y="502.5" font-size="10.9" text-anchor="end" fill="#111">Fungi</text>
<circle cx="505.5" cy="498.4" r="3" fill="#C0392B"/>
<text x="513.4" y="500.59999999999997" font-size="6" fill="#222">SB</text>
<circle cx="505.5" cy="508.6" r="3" fill="#1F6DB4"/>
<text x="513.4" y="510.8" font-size="6" fill="#222">GL</text>
<circle cx="505.5" cy="519" r="3" fill="#E8892B"/>
<text x="513.4" y="521.2" font-size="6" fill="#222">NF</text>
<circle cx="505.5" cy="529.5" r="3" fill="#1F7A46"/>
<text x="513.4" y="531.7" font-size="6" fill="#222">RT</text>
<circle cx="505.5" cy="539.7" r="3" fill="#7B6CB4"/>
<text x="513.4" y="541.9000000000001" font-size="6" fill="#222">PGS</text>
<circle cx="505.5" cy="550.3" r="3" fill="#7C9CAB"/>
<text x="513.4" y="552.5" font-size="6" fill="#222">WBSF</text>
<text transform="translate(311.3,574.1) rotate(-90)" class="sf" font-family='"Liberation Serif", serif' font-size="7.8" text-anchor="middle" textLength="117" lengthAdjust="spacingAndGlyphs" fill="#222">PC2-Percent variation explained 11.68 %</text>
<text x="353.3" y="677.8" class="sf" font-family='"Liberation Serif", serif' font-size="7.8" textLength="115.7" lengthAdjust="spacingAndGlyphs" fill="#222">PC1-Percent variation explained 18.60 %</text>
</svg></body></html>
